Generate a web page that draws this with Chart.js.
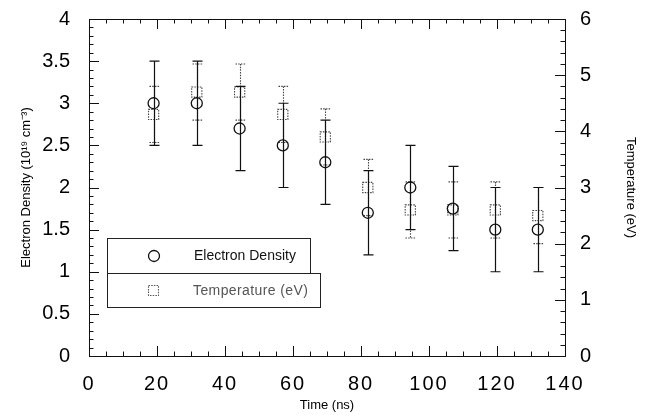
<!DOCTYPE html>
<html>
<head>
<meta charset="utf-8">
<script src="https://cdn.jsdelivr.net/npm/chart.js@4/dist/chart.umd.min.js"></script>
<style>
html,body{margin:0;padding:0;background:#fff;}
canvas{display:block;}
</style>
</head>
<body>
<canvas id="c" width="656" height="417"></canvas>
<script>
// ---- data ----
const times = [19, 31.7, 44.3, 57, 69.5, 82, 94.5, 107, 119.5, 132];
const density = [3.0, 3.0, 2.7, 2.5, 2.3, 1.7, 2.0, 1.75, 1.5, 1.5];
const densityErr = [0.5, 0.5, 0.5, 0.5, 0.5, 0.5, 0.5, 0.5, 0.5, 0.5];
const temperature = [4.3, 4.7, 4.7, 4.3, 3.9, 3.0, 2.6, 2.6, 2.6, 2.5];
const temperatureErr = [0.5, 0.5, 0.5, 0.5, 0.5, 0.5, 0.5, 0.5, 0.5, 0.5];
const seriesLabels = ['Electron Density', 'Temperature (eV)'];
const xTitle = 'Time (ns)';
const yTitle = 'Electron Density (10\u00B9\u2079 cm\u207B\u00B3)';
const y2Title = 'Temperature (eV)';

const FONT = "'Liberation Sans', Arial, Helvetica, sans-serif";

const errorBarPlugin = {
  id: 'errorBars',
  beforeDatasetDraw(chart, args) {
    const ds = chart.data.datasets[args.index];
    const ctx = chart.ctx;
    const meta = chart.getDatasetMeta(args.index);
    const ys = chart.scales[meta.yAxisID];
    const xs = chart.scales[meta.xAxisID];
    ctx.save();
    ctx.strokeStyle = ds.errColor;
    ctx.lineWidth = ds.errWidth;
    ctx.setLineDash(ds.errDash);
    ds.data.forEach((p, i) => {
      const e = ds.errors[i];
      const x = Math.round(xs.getPixelForValue(p.x)) + 0.5;
      const y1 = ys.getPixelForValue(p.y + e);
      const y0 = ys.getPixelForValue(p.y - e);
      ctx.beginPath();
      ctx.moveTo(x, y1); ctx.lineTo(x, y0);
      ctx.moveTo(x - 5, y1); ctx.lineTo(x + 5, y1);
      ctx.moveTo(x - 5, y0); ctx.lineTo(x + 5, y0);
      ctx.stroke();
    });
    ctx.restore();
    ctx.save();
    if (ds.markerDash) ctx.setLineDash(ds.markerDash);
  },
  afterDatasetDraw(chart) {
    chart.ctx.restore();
  }
};

const framePlugin = {
  id: 'frame',
  beforeDraw(chart) {
    const s = chart.scales.x;
    if (!s._lsWrapped) {
      const orig = s.drawLabels.bind(s);
      s.drawLabels = function (ca) {
        const ctx = chart.ctx;
        ctx.save();
        ctx.letterSpacing = '2px';
        orig(ca);
        ctx.restore();
      };
      s._lsWrapped = true;
    }
  },
  afterDatasetsDraw(chart) {
    const {ctx, chartArea: a, scales} = chart;
    ctx.save();
    ctx.strokeStyle = '#111';
    ctx.lineWidth = 1;
    ctx.strokeRect(Math.round(a.left) + 0.5, Math.round(a.top) + 0.5,
      Math.round(a.right - a.left), Math.round(a.bottom - a.top));
    const tick = (x0, y0, x1, y1) => { ctx.moveTo(x0, y0); ctx.lineTo(x1, y1); };
    ctx.beginPath();
    for (let v = 0; v <= 140 + 1e-9; v += 5) {
      const x = Math.round(scales.x.getPixelForValue(v)) + 0.5;
      const L = (v % 20 === 0) ? 10 : 4.5;
      tick(x, a.bottom, x, a.bottom - L);
      tick(x, a.top, x, a.top + L);
    }
    for (let k = 0; k <= 40; k++) {
      const v = k / 10;
      const y = Math.round(scales.y.getPixelForValue(v)) + 0.5;
      const L = (k % 5 === 0) ? 10 : 4.5;
      tick(a.left, y, a.left + L, y);
    }
    for (let k = 0; k <= 30; k++) {
      const v = k / 5;
      const y = Math.round(scales.y2.getPixelForValue(v)) + 0.5;
      const L = (k % 5 === 0) ? 10 : 4.5;
      tick(a.right, y, a.right - L, y);
    }
    ctx.stroke();
    ctx.restore();
  },
  afterDraw(chart) {
    const ctx = chart.ctx;
    const ds = chart.data.datasets;
    ctx.save();
    ctx.lineWidth = 1;
    ctx.strokeStyle = '#222';
    ctx.fillStyle = '#fff';
    ctx.fillRect(107, 238, 203, 35);
    ctx.strokeRect(107.5, 238.5, 203, 35);
    ctx.fillRect(107, 273, 213, 34);
    ctx.strokeRect(107.5, 273.5, 213, 34);
    ctx.strokeStyle = '#111';
    ctx.lineWidth = 1.3;
    ctx.beginPath();
    ctx.arc(154, 256, 5.5, 0, Math.PI * 2);
    ctx.stroke();
    ctx.strokeStyle = '#555';
    ctx.lineWidth = 1.1;
    ctx.setLineDash([1.5, 1.2]);
    ctx.strokeRect(148.5, 285.5, 10, 10);
    ctx.setLineDash([]);
    ctx.font = '14px ' + FONT;
    ctx.textBaseline = 'middle';
    ctx.fillStyle = '#111';
    ctx.fillText(ds[0].label, 194, 256);
    ctx.fillStyle = '#555';
    ctx.letterSpacing = '0.4px';
    ctx.fillText(ds[1].label, 193, 291);
    ctx.restore();
  }
};

const plainNum = v => String(Math.round(v * 100) / 100);

new Chart(document.getElementById('c'), {
  type: 'scatter',
  data: {
    datasets: [
      {
        label: seriesLabels[0],
        data: times.map((t, i) => ({x: t, y: density[i]})),
        errors: densityErr,
        yAxisID: 'y',
        pointStyle: 'circle',
        pointRadius: 5.5,
        pointBorderWidth: 1.3,
        pointBorderColor: '#111',
        pointBackgroundColor: 'rgba(0,0,0,0)',
        errColor: '#111', errWidth: 1.2, errDash: [],
        order: 1
      },
      {
        label: seriesLabels[1],
        data: times.map((t, i) => ({x: t, y: temperature[i]})),
        errors: temperatureErr,
        yAxisID: 'y2',
        pointStyle: 'rect',
        pointRadius: 7.2,
        pointBorderWidth: 1.1,
        pointBorderColor: '#444',
        pointBackgroundColor: 'rgba(0,0,0,0)',
        errColor: '#444', errWidth: 1.1, errDash: [1.5, 1.2],
        markerDash: [1.5, 1.2],
        order: 2
      }
    ]
  },
  options: {
    responsive: false,
    animation: false,
    layout: {padding: {top: 19, left: 0, right: 0, bottom: 0}},
    plugins: {legend: {display: false}, tooltip: {enabled: false}},
    scales: {
      x: {
        type: 'linear', min: 0, max: 140,
        grid: {display: false, drawTicks: false},
        border: {display: false},
        ticks: {stepSize: 20, padding: 16, color: '#000', maxRotation: 0,
          callback: plainNum,
          font: {family: FONT, size: 20}},
        title: {display: true, text: xTitle, color: '#000',
          font: {family: FONT, size: 13}, padding: {top: 0, bottom: 4}},
        afterFit: s => { s.height = 61; s.paddingLeft = 0; s.paddingRight = 0; }
      },
      y: {
        type: 'linear', position: 'left', min: 0, max: 4,
        grid: {display: false, drawTicks: false},
        border: {display: false},
        ticks: {stepSize: 0.5, padding: 19, color: '#000',
          callback: plainNum,
          font: {family: FONT, size: 20}},
        title: {display: true, text: yTitle, color: '#000',
          font: {family: FONT, size: 13}, padding: {top: 19, bottom: 0}},
        afterFit: s => { s.width = 89; s.paddingTop = 0; s.paddingBottom = 0; }
      },
      y2: {
        type: 'linear', position: 'right', min: 0, max: 6,
        grid: {display: false, drawTicks: false},
        border: {display: false},
        ticks: {stepSize: 1, padding: 15, color: '#000',
          callback: plainNum,
          font: {family: FONT, size: 20}},
        title: {display: true, text: y2Title, color: '#000',
          font: {family: FONT, size: 13}, padding: {top: 18, bottom: 0}},
        afterFit: s => { s.width = 91; s.paddingTop = 0; s.paddingBottom = 0; }
      }
    }
  },
  plugins: [errorBarPlugin, framePlugin]
});
</script>
</body>
</html>
